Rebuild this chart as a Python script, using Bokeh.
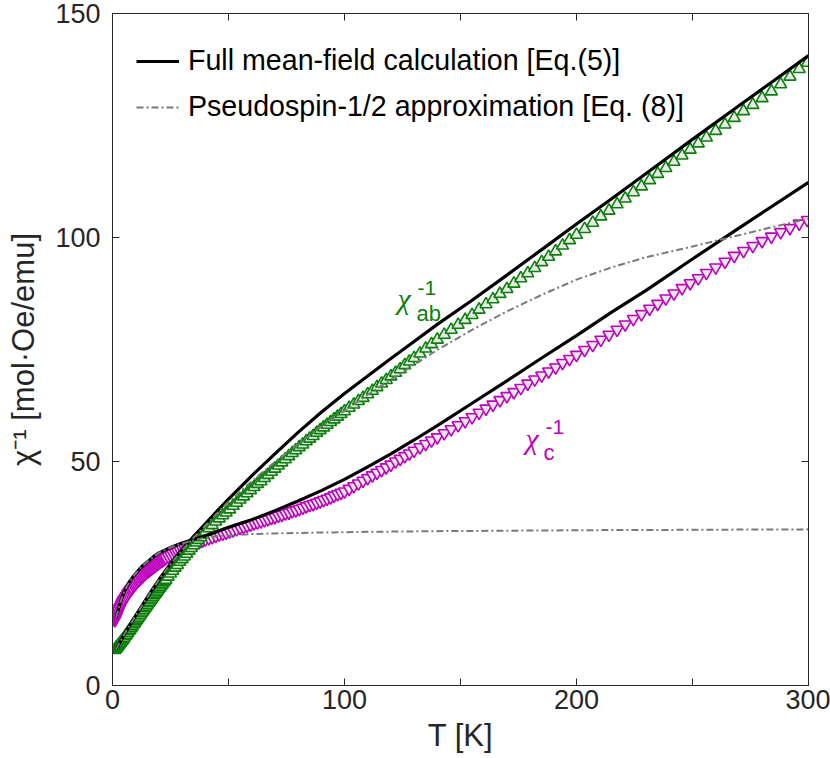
from bokeh.plotting import figure
from bokeh.models import Range1d, LinearAxis, FixedTicker, Label, Legend, LegendItem
from bokeh.embed import file_html
from bokeh.resources import INLINE

# ---------------- data ----------------
T_meas = [1.0, 1.2, 1.4, 1.6, 1.8, 2.0, 2.3, 2.6, 3.0, 3.4, 3.8, 4.2, 4.6, 5.0, 5.5, 6.0, 6.5, 7.0, 7.5, 8.0,
          8.5, 9.0, 9.5, 10.0, 10.5, 11.0, 11.5, 12.0, 12.5, 13.0, 13.5, 14.0, 14.5, 15.0, 15.5, 16.0, 16.5, 17.0, 17.5, 18.0,
          18.5, 19.0, 19.5, 20.0, 20.5, 21.0, 21.5, 22.0, 22.5, 23.0,
          24.0, 25.0, 26.0, 27.0, 28.0, 29.0, 30.0, 31.0, 32.0, 33.0, 34.0, 35.0, 36.0, 37.0, 38.0, 39.0, 40.0,
          41.5, 43.0, 44.5, 46.0, 47.5, 49.0, 50.5, 52.0, 53.5, 55.0, 56.5, 58.0, 59.5, 61.0, 62.5, 64.0, 65.5, 67.0, 68.5, 70.0,
          71.5, 73.0, 74.5, 76.0, 77.5, 79.0, 80.5, 82.0, 83.5, 85.0, 86.5, 88.0, 89.5, 91.0, 92.5, 94.0, 95.5, 97.0, 98.5, 100.0,
          102.0, 104.0, 106.0, 108.0, 110.0, 112.0, 114.0, 116.0, 118.0, 120.0, 122.0, 124.0, 126.0, 128.0, 130.0,
          132.5, 135.0, 137.5, 140.0,
          143.0, 146.0, 149.0, 152.0, 155.0, 158.0, 161.0, 164.0, 167.0, 170.0, 173.0, 176.0, 179.0, 182.0, 185.0,
          188.0, 191.0, 194.0, 197.0, 200.0,
          203.5, 207.0, 210.5, 214.0, 217.5, 221.0, 224.5, 228.0, 231.5, 235.0, 238.5, 242.0, 245.5, 249.0, 252.5,
          256.0, 260.0, 264.0, 268.0, 272.0, 276.0, 280.0, 284.0, 288.0, 292.0, 296.0, 299.5]

chi_ab_inv = [7.9, 8.1, 8.2, 8.4, 8.5, 8.6, 8.8, 9.0, 9.2, 9.5, 9.8, 10.0, 10.3, 10.6, 11.0, 11.3, 11.7, 12.1, 12.4, 12.8,
              13.2, 13.6, 13.9, 14.3, 14.7, 15.0, 15.4, 15.8, 16.2, 16.5, 16.9, 17.3, 17.6, 18.0, 18.4, 18.7, 19.1, 19.4, 19.8, 20.2,
              20.5, 20.9, 21.2, 21.6, 21.9, 22.3, 22.6, 23.0, 23.3, 23.6,
              24.3, 25.0, 25.6, 26.3, 26.9, 27.6, 28.2, 28.8, 29.4, 30.1, 30.7, 31.3, 31.9, 32.5, 33.1, 33.7, 34.3,
              35.1, 35.8, 36.6, 37.3, 38.0, 38.6, 39.3, 40.1, 40.8, 41.5, 42.2, 42.9, 43.6, 44.3, 45.0, 45.6, 46.3, 47.0, 47.7, 48.4,
              49.1, 49.8, 50.5, 51.2, 51.9, 52.5, 53.2, 53.8, 54.5, 55.1, 55.7, 56.4, 57.0, 57.6, 58.2, 58.8, 59.4, 60.0, 60.6, 61.2,
              62.0, 62.7, 63.5, 64.2, 65.0, 65.8, 66.6, 67.4, 68.2, 69.0, 69.8, 70.6, 71.5, 72.3, 73.1,
              74.1, 75.2, 76.2, 77.2,
              78.3, 79.4, 80.5, 81.6, 82.7, 83.9, 85.1, 86.2, 87.4, 88.5, 89.7, 90.9, 92.0, 93.2, 94.5,
              95.7, 96.9, 98.2, 99.4, 100.6,
              101.9, 103.3, 104.7, 106.0, 107.4, 108.7, 110.1, 111.4, 112.8, 114.2, 115.5, 116.9, 118.3, 119.6, 121.0,
              122.3, 123.8, 125.2, 126.7, 128.2, 129.6, 131.1, 132.6, 134.2, 135.9, 137.6, 139.0]

chi_c_inv = [14.6, 14.9, 15.2, 15.4, 15.7, 16.0, 16.4, 16.7, 17.2, 17.6, 18.0, 18.4, 18.8, 19.2, 19.6, 20.0, 20.4, 20.8, 21.2, 21.5,
             21.8, 22.2, 22.5, 22.8, 23.1, 23.4, 23.6, 23.9, 24.2, 24.4, 24.7, 24.9, 25.2, 25.4, 25.6, 25.8, 26.0, 26.2, 26.4, 26.6,
             26.8, 27.0, 27.2, 27.4, 27.6, 27.8, 27.9, 28.1, 28.3, 28.5,
             28.8, 29.1, 29.4, 29.7, 29.9, 30.2, 30.5, 30.7, 30.9, 31.2, 31.4, 31.6, 31.8, 32.0, 32.2, 32.4, 32.6,
             32.9, 33.1, 33.4, 33.7, 33.9, 34.1, 34.4, 34.6, 34.9, 35.2, 35.4, 35.7, 35.9, 36.2, 36.4, 36.6, 36.9, 37.1, 37.4, 37.6,
             37.9, 38.1, 38.4, 38.6, 38.9, 39.1, 39.4, 39.7, 40.0, 40.3, 40.5, 40.8, 41.1, 41.4, 41.7, 42.0, 42.4, 42.7, 43.0, 43.3,
             43.9, 44.5, 45.1, 45.7, 46.3, 46.9, 47.5, 48.1, 48.7, 49.3, 50.0, 50.6, 51.2, 51.8, 52.4,
             53.2, 53.9, 54.7, 55.4,
             56.3, 57.2, 58.1, 59.0, 59.9, 60.9, 61.8, 62.7, 63.7, 64.6, 65.5, 66.4, 67.4, 68.3, 69.2,
             70.1, 71.0, 72.0, 72.9, 73.8,
             74.9, 76.0, 77.2, 78.3, 79.4, 80.6, 81.8, 82.9, 84.1, 85.2, 86.4, 87.5, 88.7, 89.8, 90.9,
             92.1, 93.3, 94.6, 95.9, 97.0, 98.1, 99.2, 100.2, 101.2, 102.1, 103.1, 103.9]

T_calc = [1.5, 2, 3, 4, 5, 6, 7.5, 9, 10, 12.5, 15, 17.5, 20, 25, 30, 35, 40, 45, 50, 60, 70, 80, 90, 100,
          110, 120, 130, 140, 155, 170, 185, 200, 215, 230, 250, 270, 285, 300]
mf_ab = [8.1, 8.55, 9.5, 10.4, 11.3, 12.2, 13.5, 14.75, 15.6, 17.65, 19.7, 21.65, 23.6, 27.2, 30.4, 33.3, 36.1, 38.9,
         41.6, 46.8, 51.7, 56.5, 61.0, 65.2, 69.1, 73.0, 76.8, 80.6, 86.0, 91.6, 97.3, 103.0, 108.6, 114.3, 121.9,
         129.4, 135.0, 140.6]
mf_c = [15.2, 16.0, 17.9, 19.5, 20.8, 21.9, 23.3, 24.4, 25.0, 26.5, 27.6, 28.7, 29.6, 30.8, 31.8, 32.6, 33.4, 34.3,
        35.3, 37.0, 39.0, 41.2, 43.5, 46.0, 48.8, 51.7, 54.8, 58.0, 63.0, 68.0, 73.1, 78.1, 83.3, 88.2, 95.2,
        102.1, 107.2, 112.3]
ps_ab = [8.1, 8.55, 9.5, 10.4, 11.3, 12.2, 13.5, 14.75, 15.6, 17.65, 19.7, 21.65, 23.6, 27.1, 30.2, 33.0, 35.7, 38.4,
         41.0, 45.6, 49.9, 53.9, 57.8, 61.3, 64.9, 68.3, 71.6, 74.9, 79.4, 83.5, 87.2, 90.6, 93.3, 95.6, 98.0,
         100.5, 102.4, 104.2]
ps_c = [15.2, 16.0, 17.9, 19.5, 20.8, 21.9, 23.3, 24.4, 25.0, 26.5, 27.6, 28.7, 29.6, 30.8, 31.7, 32.4, 33.0, 33.3,
        33.5, 33.8, 33.95, 34.05, 34.15, 34.2, 34.3, 34.35, 34.4, 34.45, 34.5, 34.55, 34.6, 34.65, 34.7, 34.72, 34.75,
        34.8, 34.82, 34.85]

x_ticks = [0, 100, 200, 300]
x_minor_ticks = [50, 150, 250]
y_ticks = [0, 50, 100, 150]

legend_labels = ["Full mean-field calculation [Eq.(5)]", "Pseudospin-1/2 approximation [Eq. (8)]"]

# ---------------- styles ----------------
GREEN = "#0a800a"
MAGENTA = "#bf00bf"
GRAY = "#7a7a7a"
AXC = "#262626"
FONT = "Liberation Sans"

p = figure(frame_width=696, frame_height=672,
           x_range=Range1d(0, 300), y_range=Range1d(0, 150),
           output_backend="svg", toolbar_location=None,
           min_border_left=112, min_border_right=22, min_border_top=13, min_border_bottom=73,
           background_fill_color="white", border_fill_color="white")
p.xgrid.visible = False
p.ygrid.visible = False
p.outline_line_color = AXC
p.outline_line_width = 1

xt = FixedTicker(ticks=x_ticks, minor_ticks=x_minor_ticks)
yt = FixedTicker(ticks=y_ticks, minor_ticks=[])


def style(ax, show_labels):
    ax.axis_line_color = AXC
    ax.axis_line_width = 1
    ax.major_tick_in = 7
    ax.major_tick_out = 0
    ax.minor_tick_in = 7
    ax.minor_tick_out = 0
    ax.major_tick_line_color = AXC
    ax.minor_tick_line_color = AXC
    ax.major_label_text_font = FONT
    if show_labels:
        ax.major_label_text_font_size = "27px"
        ax.major_label_text_color = AXC
    else:
        ax.major_label_text_font_size = "0px"
        ax.major_label_text_color = None
        ax.major_label_standoff = 0


xa = p.xaxis[0]
xa.ticker = xt
style(xa, True)
xa.major_label_standoff = 4
xa.axis_label = "T [K]"
xa.axis_label_text_font = FONT
xa.axis_label_text_font_style = "normal"
xa.axis_label_text_font_size = "31px"
xa.axis_label_text_color = AXC
xa.axis_label_standoff = 6

ya = p.yaxis[0]
ya.ticker = yt
style(ya, True)
ya.major_label_standoff = 12
ya.axis_label = "χ⁻¹ [mol·Oe/emu]"
ya.axis_label_text_font = FONT
ya.axis_label_text_font_style = "normal"
ya.axis_label_text_font_size = "31px"
ya.axis_label_text_color = AXC
ya.axis_label_standoff = 11

top = LinearAxis(ticker=xt)
style(top, False)
p.add_layout(top, "above")
right = LinearAxis(ticker=yt)
style(right, False)
p.add_layout(right, "right")

# measured data (markers)
p.scatter(T_meas, chi_c_inv, marker="inverted_triangle", size=12, line_color=MAGENTA,
          fill_color="#e8e8e8", line_width=1.6)
p.scatter(T_meas, chi_ab_inv, marker="triangle", size=12, line_color=GREEN,
          fill_color="#e8e8e8", line_width=1.6)

# calculations
r_mf_ab = p.line(T_calc, mf_ab, line_color="black", line_width=3.2)
r_mf_c = p.line(T_calc, mf_c, line_color="black", line_width=3.2)
r_ps_ab = p.line(T_calc, ps_ab, line_color=GRAY, line_width=2, line_dash="7 3 2 3")
r_ps_c = p.line(T_calc, ps_c, line_color=GRAY, line_width=2, line_dash="7 3 2 3")

legend = Legend(items=[LegendItem(label=legend_labels[0], renderers=[r_mf_ab]),
                       LegendItem(label=legend_labels[1], renderers=[r_ps_ab])],
                location=(24, 562), orientation="vertical",
                border_line_color=None, background_fill_alpha=0,
                padding=0, margin=0, spacing=13,
                glyph_width=43, glyph_height=32, label_height=32, label_standoff=9,
                label_text_font=FONT, label_text_font_size="28.6px", label_text_color="black")
p.add_layout(legend)


def lab(x, y, text, color, size, font=FONT, style_="normal"):
    p.add_layout(Label(x=x, y=y, text=text, text_color=color, text_font=font,
                       text_font_size=size, text_font_style=style_,
                       text_align="left", text_baseline="alphabetic"))


lab(122.8, 86.4, "χ", GREEN, "30px", "Liberation Serif", "italic")
lab(131.5, 88.8, "-1", GREEN, "21px")
lab(131.0, 83.0, "ab", GREEN, "22px")
lab(178.0, 55.1, "χ", MAGENTA, "30px", "Liberation Serif", "italic")
lab(186.6, 57.6, "-1", MAGENTA, "21px")
lab(185.8, 52.0, "c", MAGENTA, "22px")

open("out.html", "w").write(file_html(p, INLINE))
